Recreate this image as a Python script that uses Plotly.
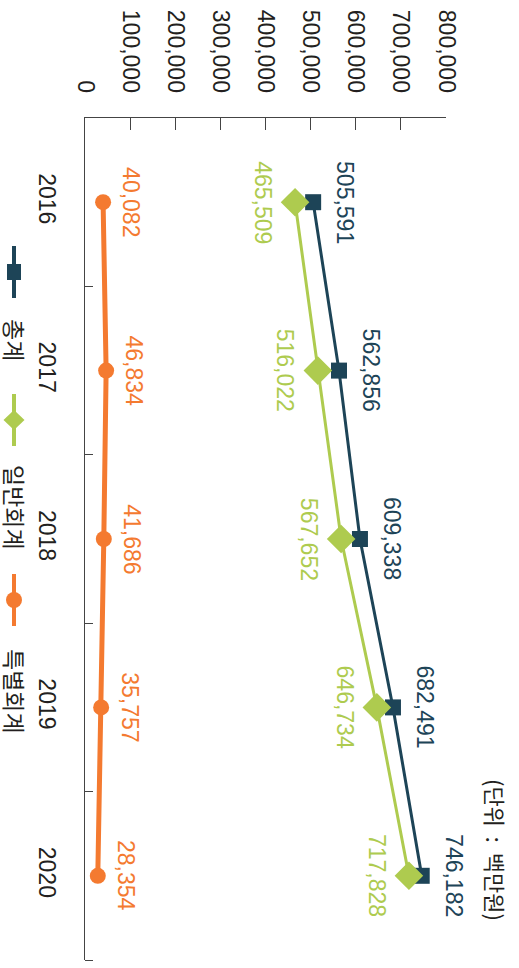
import plotly.graph_objects as go

years = ["2016", "2017", "2018", "2019", "2020"]
total = [505591, 562856, 609338, 682491, 746182]
general = [465509, 516022, 567652, 646734, 717828]
special = [40082, 46834, 41686, 35757, 28354]
series_names = ["총계", "일반회계", "특별회계"]
x_ticks = [0, 100000, 200000, 300000, 400000, 500000, 600000, 700000, 800000]
unit_text = "(단위 &nbsp;:&nbsp; 백만원)"

NAVY = "#1d4457"
GREEN = "#aecb4f"
ORANGE = "#f47a30"
FONT = "Liberation Sans, Arial, Noto Sans CJK KR"
KFONT = "Noto Sans CJK KR"

W, H = 519, 968
ML, MT = 85, 118
MR = W - 446
MB = H - 960
PW = W - ML - MR
PH = H - MT - MB

def px(x):
    return (x - ML) / PW

def py(y):
    return (H - MB - y) / PH

yidx = list(range(len(years)))

fig = go.Figure()
fig.add_trace(go.Scatter(x=total, y=yidx, mode="lines+markers", name=series_names[0],
                         line=dict(color=NAVY, width=3),
                         marker=dict(symbol="square", size=16, color=NAVY)))
fig.add_trace(go.Scatter(x=general, y=yidx, mode="lines+markers", name=series_names[1],
                         line=dict(color=GREEN, width=3),
                         marker=dict(symbol="diamond", size=22, color=GREEN)))
fig.add_trace(go.Scatter(x=special, y=yidx, mode="lines+markers", name=series_names[2],
                         line=dict(color=ORANGE, width=5),
                         marker=dict(symbol="circle", size=16, color=ORANGE)))

annotations = []
for vals, col, shift in [(total, NAVY, 32), (general, GREEN, -32), (special, ORANGE, 28)]:
    for v, yi in zip(vals, yidx):
        annotations.append(dict(x=v, y=yi, xref="x", yref="y", text=f"{v:,}",
                                showarrow=False, textangle=90, xshift=shift,
                                xanchor="center", yanchor="middle",
                                font=dict(family=FONT, size=23, color=col)))

legend_items = [
    (series_names[0], NAVY, 272, "square", 340),
    (series_names[1], GREEN, 420, "diamond", 507),
    (series_names[2], ORANGE, 600, "circle", 691),
]
shapes = []
for name, col, yc, sym, tc in legend_items:
    shapes.append(dict(type="line", xref="paper", yref="paper",
                       x0=px(14), x1=px(14), y0=py(yc - 26), y1=py(yc + 26),
                       line=dict(color=col, width=4)))
    if sym == "square":
        shapes.append(dict(type="rect", xref="paper", yref="paper",
                           x0=px(7), x1=px(21), y0=py(yc - 8), y1=py(yc + 8),
                           fillcolor=col, line=dict(width=0)))
    elif sym == "circle":
        shapes.append(dict(type="circle", xref="paper", yref="paper",
                           x0=px(6), x1=px(22), y0=py(yc - 8), y1=py(yc + 8),
                           fillcolor=col, line=dict(width=0)))
    else:
        shapes.append(dict(type="path", xref="paper", yref="paper",
                           path=f"M {px(14)},{py(yc-10)} L {px(24.5)},{py(yc)} L {px(14)},{py(yc+10)} L {px(3.5)},{py(yc)} Z",
                           fillcolor=col, line=dict(width=0)))
    annotations.append(dict(x=px(15), y=py(tc), xref="paper", yref="paper",
                            text=name, showarrow=False, textangle=90,
                            xanchor="center", yanchor="middle",
                            font=dict(family=KFONT, size=23, color="#231f20")))

annotations.append(dict(x=px(496), y=py(850), xref="paper", yref="paper",
                        text=unit_text, showarrow=False, textangle=90,
                        xanchor="center", yanchor="middle",
                        font=dict(family=KFONT, size=22, color="#231f20")))

fig.update_layout(
    width=W, height=H,
    margin=dict(l=ML, r=MR, t=MT, b=MB, pad=0, autoexpand=False),
    paper_bgcolor="white", plot_bgcolor="white",
    showlegend=False,
    annotations=annotations,
    shapes=shapes,
    xaxis=dict(side="top", range=[0, 800000], tickvals=x_ticks,
               ticktext=[f"{t:,}" for t in x_ticks], tickangle=90,
               ticks="inside", ticklen=12, tickcolor="#444", showline=True,
               linecolor="#444", linewidth=1, showgrid=False, zeroline=False,
               ticklabelstandoff=16, automargin=False,
               tickfont=dict(family=FONT, size=23, color="#231f20")),
    yaxis=dict(range=[len(years) - 0.5, -0.5], tickvals=yidx, ticktext=years,
               ticks="", showline=True, linecolor="#444", linewidth=1,
               showgrid=False, zeroline=False, tickangle=90,
               ticklabelstandoff=17, automargin=False,
               minor=dict(tickvals=[i + 0.5 for i in yidx], ticks="inside",
                          ticklen=8, tickcolor="#444", showgrid=False),
               tickfont=dict(family=FONT, size=23, color="#231f20")),
)

fig.write_html("out.html",
               config={"displayModeBar": False},
               post_script="document.body.style.margin='0px';document.body.style.overflow='hidden';")
